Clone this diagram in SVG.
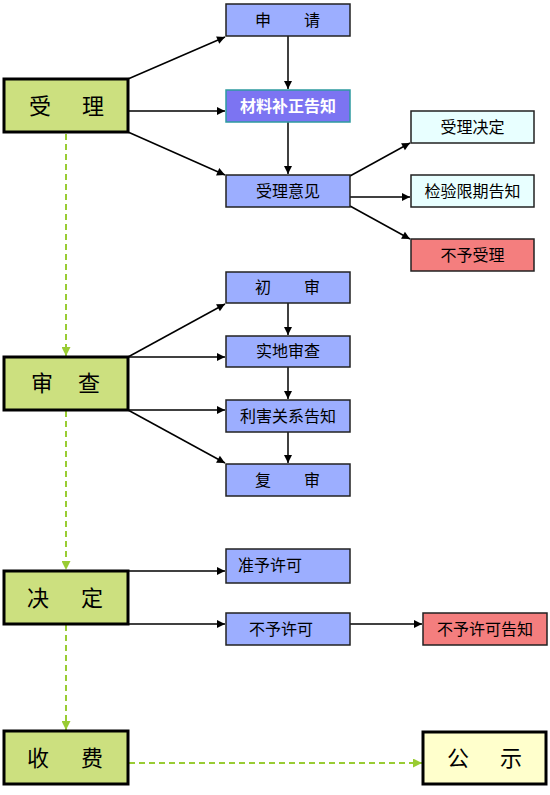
<svg xmlns="http://www.w3.org/2000/svg" width="550" height="795" viewBox="0 0 550 795">
<defs>
<marker id="ah" viewBox="0 0 10 10" refX="10" refY="5" markerWidth="10" markerHeight="8" markerUnits="userSpaceOnUse" orient="auto"><path d="M0,0 L10,5 L0,10 Z" fill="#000"/></marker>
<marker id="gh" viewBox="0 0 10 10" refX="10" refY="5" markerWidth="9" markerHeight="9" markerUnits="userSpaceOnUse" orient="auto"><path d="M0,0 L10,5 L0,10 Z" fill="#99CC33"/></marker>
</defs>
<style>
.main{fill:#CCE07F;stroke:#000;stroke-width:3}
.blue{fill:#9CAEFF;stroke:#222;stroke-width:1.5}
.purple{fill:#7C74F2;stroke:#2E9AA0;stroke-width:1.5}
.cyan{fill:#E8FFFF;stroke:#222;stroke-width:1.5}
.red{fill:#F47E7E;stroke:#222;stroke-width:1.5}
.yellow{fill:#FFFFCC;stroke:#000;stroke-width:3}
text{font-family:"Noto Sans CJK SC",sans-serif;fill:#000;text-anchor:middle}
.big{font-size:22px}
.sm{font-size:16px}
.wt{fill:#fff;font-weight:bold}
.c{stroke:#000;stroke-width:1.5;fill:none;marker-end:url(#ah)}
.d{stroke:#99CC33;stroke-width:2;stroke-dasharray:6 4;fill:none;marker-end:url(#gh)}
</style>
<g id="connectors">
<line class="c" x1="128" y1="79" x2="225" y2="37"/>
<line class="c" x1="128" y1="111" x2="225" y2="111"/>
<line class="c" x1="128" y1="132" x2="225" y2="175"/>
<line class="c" x1="288" y1="36" x2="288" y2="89"/>
<line class="c" x1="288" y1="122" x2="288" y2="174"/>
<line class="c" x1="350" y1="176" x2="410" y2="143"/>
<line class="c" x1="350" y1="197" x2="410" y2="197"/>
<line class="c" x1="350" y1="206" x2="410" y2="239"/>
<line class="c" x1="128" y1="357" x2="225" y2="304"/>
<line class="c" x1="128" y1="357" x2="225" y2="357"/>
<line class="c" x1="128" y1="410" x2="225" y2="410"/>
<line class="c" x1="128" y1="410" x2="225" y2="463"/>
<line class="c" x1="288" y1="303" x2="288" y2="335"/>
<line class="c" x1="288" y1="367" x2="288" y2="399"/>
<line class="c" x1="288" y1="432" x2="288" y2="463"/>
<line class="c" x1="128" y1="571" x2="225" y2="571"/>
<line class="c" x1="128" y1="624" x2="225" y2="624"/>
<line class="c" x1="350" y1="624" x2="422" y2="624"/>
<line class="d" x1="66" y1="134" x2="66" y2="356"/>
<line class="d" x1="66" y1="411" x2="66" y2="570"/>
<line class="d" x1="66" y1="625" x2="66" y2="730"/>
<line class="d" x1="129" y1="763" x2="422" y2="763"/>
</g>
<g id="n-shouli"><rect class="main" x="4" y="79" width="124" height="53"/><text class="big" x="40" y="114">受<tspan x="93">理</tspan></text></g>
<g id="n-shenqing"><rect class="blue" x="226" y="4" width="124" height="32"/><text class="sm" x="263" y="26">申<tspan x="312">请</tspan></text></g>
<g id="n-cailiao"><rect class="purple" x="226" y="90" width="124" height="32"/><text class="sm wt" x="288" y="112">材料补正告知</text></g>
<g id="n-yijian"><rect class="blue" x="226" y="175" width="124" height="32"/><text class="sm" x="288" y="197">受理意见</text></g>
<g id="n-jueding1"><rect class="cyan" x="411" y="111" width="123" height="32"/><text class="sm" x="472.5" y="133">受理决定</text></g>
<g id="n-jianyan"><rect class="cyan" x="411" y="175" width="123" height="32"/><text class="sm" x="472.5" y="197">检验限期告知</text></g>
<g id="n-buyushouli"><rect class="red" x="411" y="239" width="123" height="32"/><text class="sm" x="472.5" y="261">不予受理</text></g>
<g id="n-shencha"><rect class="main" x="4" y="357" width="124" height="53"/><text class="big" x="42" y="391">审<tspan x="89">查</tspan></text></g>
<g id="n-chushen"><rect class="blue" x="226" y="272" width="124" height="31"/><text class="sm" x="263" y="293">初<tspan x="312">审</tspan></text></g>
<g id="n-shidi"><rect class="blue" x="226" y="336" width="124" height="31"/><text class="sm" x="288" y="357">实地审查</text></g>
<g id="n-lihai"><rect class="blue" x="226" y="400" width="124" height="32"/><text class="sm" x="288" y="422">利害关系告知</text></g>
<g id="n-fushen"><rect class="blue" x="226" y="464" width="124" height="32"/><text class="sm" x="263" y="486">复<tspan x="312">审</tspan></text></g>
<g id="n-jueding"><rect class="main" x="4" y="571" width="124" height="53"/><text class="big" x="38" y="606">决<tspan x="92">定</tspan></text></g>
<g id="n-zhunyu"><rect class="blue" x="226" y="549" width="124" height="34"/><text class="sm" x="238" y="571" style="text-anchor:start">准予许可</text></g>
<g id="n-buyuxuke"><rect class="blue" x="226" y="613" width="124" height="32"/><text class="sm" x="281" y="635">不予许可</text></g>
<g id="n-buyugaozhi"><rect class="red" x="423" y="613" width="124" height="32"/><text class="sm" x="485" y="635">不予许可告知</text></g>
<g id="n-shoufei"><rect class="main" x="4" y="731" width="124" height="53"/><text class="big" x="38" y="766">收<tspan x="92">费</tspan></text></g>
<g id="n-gongshi"><rect class="yellow" x="423" y="732" width="123" height="52"/><text class="big" x="458" y="766">公<tspan x="511">示</tspan></text></g>
</svg>
